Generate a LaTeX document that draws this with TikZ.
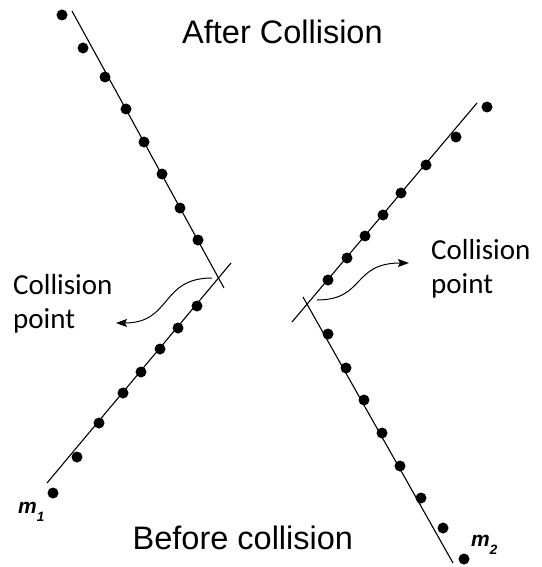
\documentclass[tikz,border=0pt]{standalone}
\usepackage{fontspec}
\setmainfont{Liberation Sans}
\newfontfamily\calib{Carlito}
\usetikzlibrary{arrows.meta}
\newcommand{\masssub}[1]{\raisebox{-8pt}{\fontsize{13.5}{14}\selectfont #1}}
\begin{document}
\begin{tikzpicture}[x=1pt,y=-1pt,
  dot/.style={circle,fill=black,inner sep=0pt,minimum size=11pt},
  trail/.style={draw=black,line width=1.1pt},
  curvearrow/.style={draw=black,line width=1pt,-{Stealth[length=11pt,width=8pt,inset=2pt]}},
  titletext/.style={font=\fontsize{32.5}{38}\selectfont,anchor=base west,inner sep=0pt},
  cptext/.style={font=\calib\fontsize{29}{34}\selectfont,align=left,anchor=north west,inner sep=0pt},
  masstext/.style={font=\bfseries\itshape\fontsize{21}{24}\selectfont,anchor=base west,inner sep=0pt}]
\useasboundingbox (0,0) rectangle (541,567);
% line ends
\coordinate (a1) at (72,11);   \coordinate (a2) at (224,288);
\coordinate (b1) at (47,483);  \coordinate (b2) at (231,263);
\coordinate (c1) at (292,322); \coordinate (c2) at (477,103);
\coordinate (d1) at (303,297); \coordinate (d2) at (453,563);
\draw[trail] (a1) -- (a2);
\draw[trail] (b1) -- (b2);
\draw[trail] (c1) -- (c2);
\draw[trail] (d1) -- (d2);
% dots m1 after
\foreach \p [count=\i] in {(62,15),(83,48),(105,77),(126,109),(144,142),(162,174),(180,208),(198,240)}
  \node[dot] (A\i) at \p {};
% dots m1 before
\foreach \p [count=\i] in {(197,306),(178,328),(160,349),(141,372),(123,393),(99,423),(77,457),(53,493)}
  \node[dot] (B\i) at \p {};
% dots m2 after
\foreach \p [count=\i] in {(487,107),(456,137),(426,165),(401,193),(383,215),(365,236),(347,258),(328,280)}
  \node[dot] (C\i) at \p {};
% dots m2 before
\foreach \p [count=\i] in {(328,334),(346,368),(364,400),(382,433),(400,466),(421,498),(443,528),(464,559)}
  \node[dot] (D\i) at \p {};
% texts
\node[titletext] (after) at (182,44) {After Collision};
\node[titletext] (before) at (132.5,549.5) {Before collision};
\node[cptext] (cpl) at (13,274) {Collision\\point};
\node[cptext] (cpr) at (431,239) {Collision\\point};
\node[masstext] (m1) at (18,513) {m\masssub{1}};
\node[masstext] (m2) at (471,546) {m\masssub{2}};
% arrows
\coordinate (s1) at (212,278); \coordinate (e1) at (116,323);
\coordinate (s2) at (317,300); \coordinate (e2) at (409,263);
\draw[curvearrow] (s1) .. controls (160,278) and (172,323) .. (e1);
\draw[curvearrow] (s2) .. controls (365,300) and (352,263) .. (e2);
\end{tikzpicture}
\end{document}
